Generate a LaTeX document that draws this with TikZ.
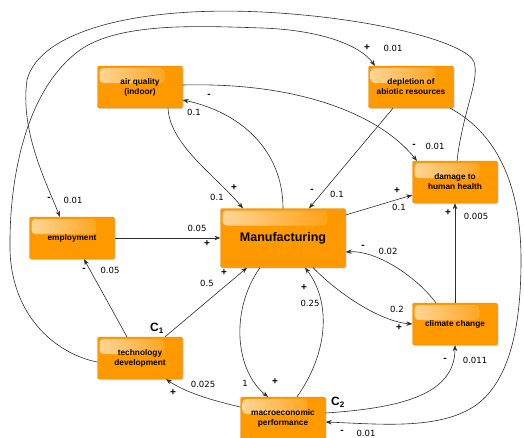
\documentclass[tikz,border=0pt]{standalone}
\usepackage{fontspec}
\setmainfont{Liberation Sans}
\newfontfamily\numfont{DejaVu Sans}
\usetikzlibrary{arrows.meta,shadows}

\definecolor{boxorange}{RGB}{255,153,0}
\definecolor{linegray}{RGB}{45,45,45}

\tikzset{
  factor/.style={fill=boxorange, draw=boxorange!88!black, line width=0.3pt,
    rounded corners=2pt, minimum width=85pt, minimum height=42pt, align=center,
    text=black, inner sep=1pt,
    font=\fontsize{8.3}{10}\selectfont\bfseries,
    drop shadow={opacity=0.3, shadow xshift=1.2pt, shadow yshift=-1.2pt},
    path picture={\shade[left color=white!60!boxorange, right color=boxorange, rounded corners=4pt]
      ([xshift=2pt,yshift=-2pt]path picture bounding box.north west) rectangle
      ([xshift=-18pt,yshift=-17pt]path picture bounding box.north east);}},
  core/.style={factor, minimum width=125pt, minimum height=59pt,
    font=\fontsize{12.5}{14}\selectfont\bfseries},
  coef/.style={font=\numfont\fontsize{8.5}{10}\selectfont, inner sep=0pt},
  sgn/.style={font=\fontsize{10}{10}\selectfont\bfseries, inner sep=0pt},
  cyc/.style={font=\fontsize{12}{12}\selectfont\bfseries, inner sep=0pt},
  link/.style={->, draw=linegray, line width=0.6pt}
}

\begin{document}
\begin{tikzpicture}[x=1pt, y=-1pt, >={Stealth[length=6pt,width=4.5pt]}]
    \useasboundingbox (0,0) rectangle (524,437);

    % Define the factors
    \node[factor] (air)   at (140,87)  {air quality\\(indoor)};
    \node[factor] (depl)  at (411,87)  {depletion of\\abiotic resources};
    \node[factor] (dmg)   at (455,182) {damage to\\human health};
    \node[factor] (emp)   at (72,238)  {employment};
    \node[core]   (manu)  at (283,238) {Manufacturing};
    \node[factor] (tech)  at (140,358) {technology\\development};
    \node[factor] (clim)  at (455,324) {climate change};
    \node[factor] (macro) at (283,418) {macroeconomic\\performance};

    % Links around Manufacturing
    \draw[link] ([xshift=28pt]air.south) .. controls (170,145) and (215,175) .. ([xshift=-40pt]manu.north);
    \draw[link] (manu.north) .. controls (283,150) and (240,112) .. ([yshift=-13pt]air.east);
    \draw[link] ([yshift=2pt]air.east) .. controls (300,82) and (380,115) .. ([xshift=-38pt]dmg.north);
    \draw[link] ([xshift=-18pt]depl.south) -- ([xshift=26pt]manu.north);
    \draw[link] ([yshift=23pt]manu.east) -- ([yshift=-13pt]dmg.west);
    \draw[link] (clim.north) -- (dmg.south);
    \draw[link] ([xshift=-19pt]clim.north) .. controls (415,275) and (375,250) .. ([yshift=-14pt]manu.east);
    \draw[link] ([xshift=30pt]manu.south) .. controls (345,300) and (385,322) .. (clim.west);
    \draw[link] (emp.east) -- (manu.west);
    \draw[link] ([xshift=-13pt]tech.north) -- ([xshift=12pt]emp.south);
    \draw[link] ([xshift=25pt]tech.north) -- ([xshift=-36pt]manu.south);
    \draw[link] ([yshift=11pt]macro.west) .. controls (210,400) and (185,392) .. ([xshift=26pt]tech.south);
    \draw[link] ([xshift=-23pt]manu.south) .. controls (230,310) and (235,370) .. ([xshift=-15pt]macro.north);
    \draw[link] ([xshift=14pt]macro.north) .. controls (330,350) and (330,300) .. ([xshift=22pt]manu.south);
    \draw[link] ([yshift=5pt]macro.east) .. controls (400,408) and (455,395) .. (clim.south);

    % Long loops round the outside
    \draw[link] ([xshift=39pt]depl.south) .. controls (500,135) and (521,190) .. (521,260)
        .. controls (521,320) and (512,375) .. (480,402)
        .. controls (445,431) and (380,424) .. ([yshift=-4pt]macro.east);
    \draw[link] ([xshift=2pt]dmg.north) .. controls (463,110) and (480,80) .. (474,62)
        .. controls (468,44) and (380,18) .. (262,12)
        .. controls (140,6) and (40,30) .. (27,80)
        .. controls (20,130) and (45,180) .. ([xshift=-12pt]emp.north);
    \draw[link] ([yshift=-4pt]tech.west) .. controls (60,355) and (12,320) .. (10,250)
        .. controls (9,180) and (25,90) .. (80,50)
        .. controls (120,22) and (200,26) .. (262,28)
        .. controls (320,30) and (360,45) .. ([xshift=-36pt]depl.north);

    % Signs and coefficients
    \node[sgn]  (s1)  at (234,188) {+};  \node[coef] (k1)  at (217,197) {0.1};
    \node[sgn]  (s2)  at (209,96)  {-};  \node[coef] (k2)  at (194,112) {0.1};
    \node[sgn]  (s3)  at (414,146) {-};  \node[coef] (k3)  at (435,146) {0.01};
    \node[sgn]  (s4)  at (312,191) {-};  \node[coef] (k4)  at (337,194) {0.1};
    \node[sgn]  (s5)  at (397,191) {+};  \node[coef] (k5)  at (399,207) {0.1};
    \node[sgn]  (s6)  at (448,213) {+};  \node[coef] (k6)  at (476,216) {0.005};
    \node[sgn]  (s7)  at (363,247) {-};  \node[coef] (k7)  at (388,251) {0.02};
    \node[sgn]  (s8)  at (399,328) {+};  \node[coef] (k8)  at (397,309) {0.2};
    \node[sgn]  (s9)  at (207,244) {+};  \node[coef] (k9)  at (197,228) {0.05};
    \node[sgn]  (s10) at (84,270)  {-};  \node[coef] (k10) at (110,270) {0.05};
    \node[sgn]  (s11) at (224,273) {+};  \node[coef] (k11) at (207,283) {0.5};
    \node[sgn]  (s12) at (173,393) {+};  \node[coef] (k12) at (203,384) {0.025};
    \node[sgn]  (s13) at (275,382) {+};  \node[coef] (k13) at (245,383) {1};
    \node[sgn]  (s14) at (304,288) {+};  \node[coef] (k14) at (310,303) {0.25};
    \node[sgn]  (s15) at (445,360) {-};  \node[coef] (k15) at (475,360) {0.011};
    \node[sgn]  (s16) at (342,432) {-};  \node[coef] (k16) at (366,433) {0.01};
    \node[sgn]  (s17) at (49,199)  {-};  \node[coef] (k17) at (73,200)  {0.01};
    \node[sgn]  (s18) at (367,48)  {+};  \node[coef] (k18) at (393,48)  {0.01};

    % Cycle marks
    \node[cyc] (c1) at (157,328) {C\textsubscript{1}};
    \node[cyc] (c2) at (338,402) {C\textsubscript{2}};
\end{tikzpicture}
\end{document}
